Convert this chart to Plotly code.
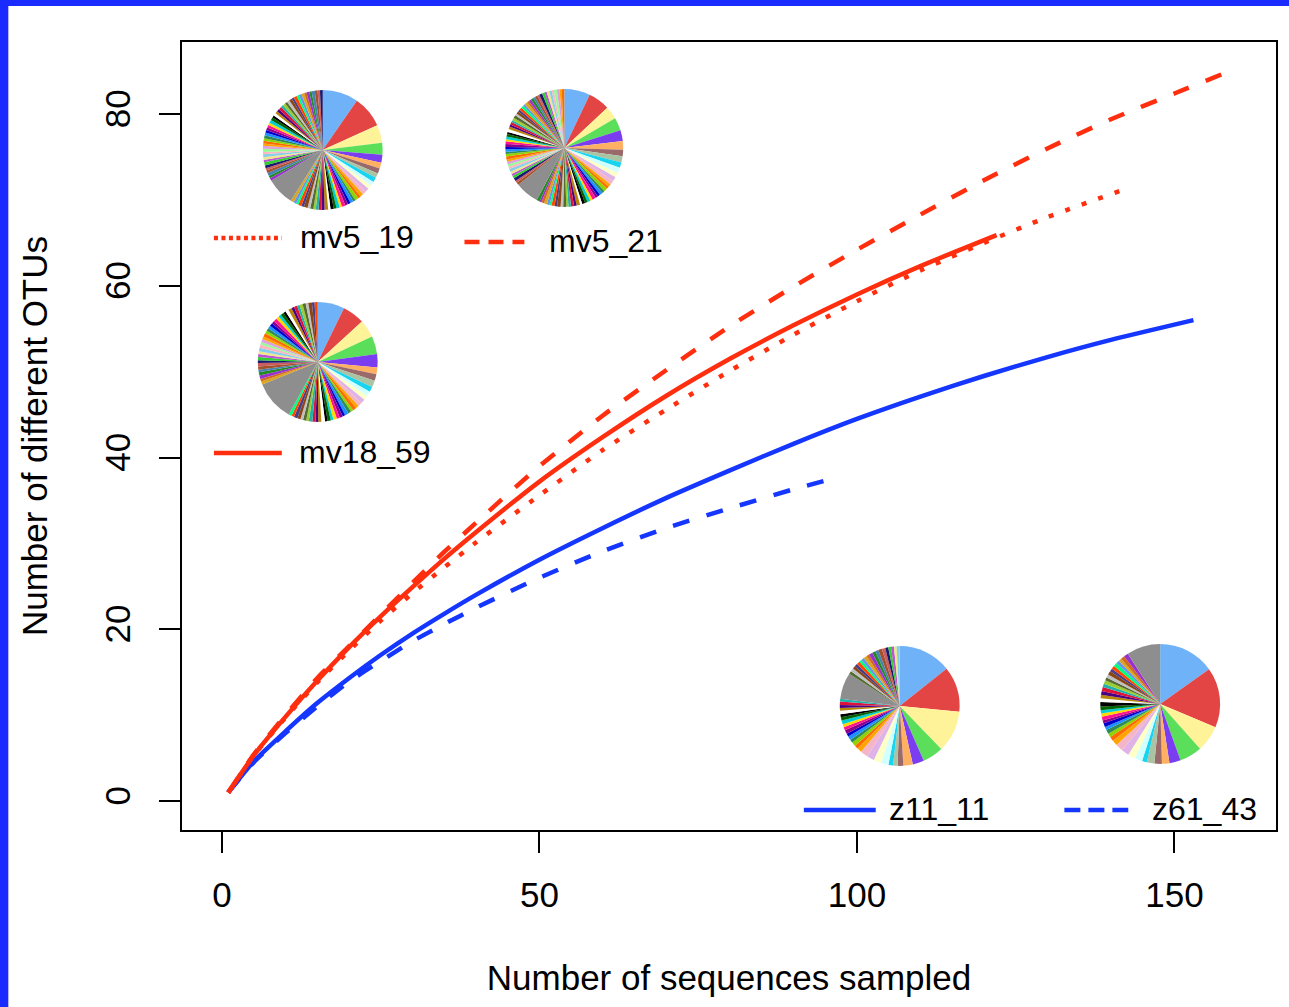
import plotly.graph_objects as go

# ---------------- data ----------------
x_mv18_59 = [1, 5, 10, 15, 20, 25, 30, 35, 40, 50, 60, 70, 80, 90, 100, 110, 122]
y_mv18_59 = [1, 5.3, 9.8, 14.0, 17.9, 21.5, 24.9, 28.2, 31.3, 37.2, 42.4, 47.2, 51.5, 55.4, 59.0, 62.3, 65.9]

x_mv5_19 = [1, 5, 10, 15, 20, 25, 30, 35, 40, 50, 60, 70, 80, 90, 100, 110, 120, 130, 142]
y_mv5_19 = [1, 5.3, 9.7, 13.8, 17.5, 21.0, 24.2, 27.2, 30.1, 35.6, 40.9, 45.6, 50.1, 54.3, 58.2, 61.8, 65.0, 68.0, 71.2]

x_mv5_21 = [1, 5, 10, 15, 20, 25, 30, 35, 40, 50, 60, 70, 80, 90, 100, 110, 120, 130, 140, 150, 158]
y_mv5_21 = [1, 5.4, 10.0, 14.3, 18.0, 21.7, 25.4, 29.0, 32.4, 39.0, 44.9, 50.2, 55.3, 59.9, 64.2, 68.3, 72.3, 76.0, 79.4, 82.4, 84.8]

x_z11_11 = [1, 5, 10, 15, 20, 25, 30, 35, 40, 50, 60, 70, 80, 90, 100, 110, 120, 130, 140, 153]
y_z11_11 = [1, 4.6, 8.1, 11.4, 14.3, 17.0, 19.5, 21.8, 24.0, 28.1, 31.8, 35.3, 38.5, 41.6, 44.5, 47.1, 49.5, 51.7, 53.7, 56.0]

x_z61_43 = [1, 5, 10, 15, 20, 25, 30, 35, 40, 50, 60, 70, 80, 90, 95]
y_z61_43 = [1, 4.5, 7.9, 11.0, 13.9, 16.3, 18.6, 20.6, 22.5, 26.0, 29.1, 31.8, 34.1, 36.3, 37.3]

x_ticks = [0, 50, 100, 150]
y_ticks = [0, 20, 40, 60, 80]

# OTU relative abundances shown in the pies (clockwise from 12 o'clock)
pie_mv5_19 = [9.0, 8.0, 4.5, 3.0, 2.0, 1.5, 1.3, 1.2, 1.2, 1.1, 1.0, 1.0, 0.9,
              0.8, 0.7, 0.9, 0.6, 0.8, 0.7, 0.7, 0.9, 0.6, 0.8, 0.7, 0.8, 0.6, 0.9, 0.7, 0.8,
              0.7, 0.6, 0.8, 0.7, 0.9, 0.7, 0.8, 0.6, 0.7, 0.8,
              7.0,
              0.7, 0.6, 0.8, 0.7, 0.6, 0.7, 0.8, 0.6, 0.7, 0.7, 0.6, 0.8, 0.7, 0.6, 0.7, 0.6,
              0.8, 0.7, 0.6, 0.7, 0.7, 0.6, 0.8, 0.7, 0.6, 0.7, 0.6, 0.7, 0.8, 0.6, 0.7, 0.6,
              0.7, 0.7, 0.6, 0.8, 0.6, 0.7, 0.7, 0.6, 0.7, 0.6, 0.8, 0.7, 0.6, 0.7]
pie_mv5_21 = [6.0, 5.0, 3.0, 3.0, 2.5, 2.0, 1.5, 1.5, 1.2, 1.3, 1.1, 1.0, 1.0,
              0.7, 0.6, 0.8, 0.6, 0.7, 0.6, 0.6, 0.8, 0.6, 0.7, 0.6, 0.7, 0.5, 0.8, 0.6, 0.7,
              0.6, 0.5, 0.7, 0.6, 0.8, 0.6, 0.7, 0.5, 0.6, 0.7, 0.6, 0.5, 0.7,
              5.5,
              0.6, 0.5, 0.7, 0.6, 0.5, 0.6, 0.7, 0.5, 0.6, 0.6, 0.5, 0.7, 0.6, 0.5, 0.6, 0.5,
              0.7, 0.6, 0.5, 0.6, 0.6, 0.5, 0.7, 0.6, 0.5, 0.6, 0.5, 0.6, 0.7, 0.5, 0.6, 0.5,
              0.6, 0.6, 0.5, 0.7, 0.5, 0.6, 0.6, 0.5, 0.6, 0.5, 0.7, 0.6, 0.5, 0.6, 0.6, 0.5,
              0.7, 0.6, 0.5, 0.6]
pie_mv18_59 = [6.0, 5.0, 4.0, 4.0, 3.0, 1.5, 1.5, 1.5, 1.2, 1.1, 1.0, 1.0, 0.9,
               0.7, 0.8, 0.6, 0.7, 0.8, 0.6, 0.7, 0.7, 0.8, 0.6, 0.7, 0.6, 0.8, 0.7, 0.6,
               0.7, 0.8, 0.6, 0.7, 0.6, 0.7, 0.8, 0.6, 0.7,
               9.0,
               0.7, 0.6, 0.8, 0.7, 0.6, 0.7, 0.8, 0.6, 0.7, 0.7, 0.6, 0.8, 0.7, 0.6, 0.7, 0.6,
               0.8, 0.7, 0.6, 0.7, 0.7, 0.6, 0.8, 0.7, 0.6, 0.7, 0.6, 0.7, 0.8, 0.6, 0.7, 0.6,
               0.7, 0.7, 0.6, 0.8, 0.6, 0.7]
pie_z11_11 = [14.0, 12.0, 11.0, 5.5, 3.0, 2.5, 1.5, 1.2, 1.2, 2.0, 2.0, 2.0, 2.0,
              1.2, 1.0, 1.1, 0.9, 1.0, 0.8, 1.0, 0.9, 0.8, 1.0, 0.9, 0.8, 0.9, 0.7, 0.8,
              0.9, 0.7,
              7.0,
              0.8, 0.9, 0.7, 0.8, 0.9, 0.7, 0.8, 0.9, 0.7, 1.0, 0.9, 0.8, 1.0, 0.9, 0.8,
              0.7, 0.8, 0.7, 0.8]
pie_z61_43 = [15.0, 16.0, 7.0, 6.0, 3.0, 2.0, 2.0, 2.0, 1.3, 2.0, 2.0, 2.0, 2.0,
              1.5, 1.2, 1.0, 1.1, 0.9, 1.0, 0.8, 1.0, 0.9, 0.8, 1.0, 1.2, 1.0, 0.9, 1.0,
              1.1, 0.9, 1.0, 0.8, 0.9, 1.0, 0.8, 0.9, 1.0, 0.9, 0.8, 1.0, 1.2,
              9.0]

# ---------------- style ----------------
RED = "#FF2E0E"
BLUE = "#1436FF"
FRAME_BLUE = "#1A2BFF"
FONT = "Liberation Sans, Arial, sans-serif"

W, H = 1289, 1007
PL, PR, PT, PB = 182, 1278, 42, 830   # plot box in pixels
PW, PH = PR - PL, PB - PT


def px(xp):
    return (xp - PL) / PW


def py(yp):
    return (PB - yp) / PH


HEAD = ["#70B2F7", "#E34444", "#FFF39A", "#5BDF5B", "#7A3DF0", "#FFB062", "#9A6A6A",
        "#A9C3A3", "#17D4F0", "#D2FFFF", "#FFFFC8", "#E0B3E8", "#F5B5C8"]
TAIL = ["#FFA500", "#FF6A00", "#8FD400", "#2E8B57", "#1E90FF", "#0000CD", "#8B008B",
        "#FF1493", "#FFD700", "#00CED1", "#006400", "#000000", "#FFFFFF", "#B8860B",
        "#4B0082", "#DC143C", "#20B2AA", "#9ACD32", "#556B2F", "#C0C0C0", "#8B4513",
        "#483D8B", "#FF4500", "#00FF7F", "#6495ED", "#DAA520", "#D2691E", "#9932CC",
        "#228B22", "#4682B4", "#A0522D", "#CD5C5C", "#191970", "#32CD32", "#BA55D3",
        "#F0E68C", "#87CEEB", "#FFB6C1", "#98FB98", "#DDA0DD"]
GRAY = "#8E8E8E"


def pie_colors(values):
    big = max(range(13, len(values)), key=lambda i: values[i])
    cols = []
    for i in range(len(values)):
        if i < len(HEAD):
            cols.append(HEAD[i])
        elif i == big:
            cols.append(GRAY)
        else:
            cols.append(TAIL[(i - len(HEAD)) % len(TAIL)])
    return cols


fig = go.Figure()

curves = [
    (x_z11_11, y_z11_11, BLUE, "solid", "z11_11"),
    (x_z61_43, y_z61_43, BLUE, "17px,18px", "z61_43"),
    (x_mv5_19, y_mv5_19, RED, "5px,12.5px", "mv5_19"),
    (x_mv5_21, y_mv5_21, RED, "17px,18px", "mv5_21"),
    (x_mv18_59, y_mv18_59, RED, "solid", "mv18_59"),
]
for xs, ys, col, dash, name in curves:
    fig.add_trace(go.Scatter(x=xs, y=ys, mode="lines", name=name,
                             line=dict(color=col, width=4.5, dash=dash, shape="spline", smoothing=0.6),
                             showlegend=False, hoverinfo="skip"))

# pies: (values, center px x, center px y, radius px)
pies = [
    (pie_mv5_19, 323, 150, 60),
    (pie_mv5_21, 565, 148, 59),
    (pie_mv18_59, 318, 362, 60),
    (pie_z11_11, 901, 706, 60),
    (pie_z61_43, 1162, 704, 60),
]
for vals, cx, cy, r in pies:
    fig.add_trace(go.Pie(values=vals, sort=False, direction="clockwise", rotation=0,
                         marker=dict(colors=pie_colors(vals), line=dict(width=0)),
                         textinfo="none", hoverinfo="skip", showlegend=False,
                         domain=dict(x=[px(cx - r), px(cx + r)], y=[py(cy + r), py(cy - r)])))

# legend keys (line samples + labels)
legend_items = [
    ("mv5_19", RED, "4px,3.5px", 214, 282, 238, 300),
    ("mv5_21", RED, "15px,9px", 465, 525, 242, 550),
    ("mv18_59", RED, "solid", 214, 282, 453, 299),
    ("z11_11", BLUE, "solid", 805, 877, 810, 890),
    ("z61_43", BLUE, "16px,8px", 1066, 1130, 810, 1154),
]
shapes = []
annotations = []
for label, col, dash, x0, x1, yl, xt in legend_items:
    shapes.append(dict(type="line", xref="paper", yref="paper", x0=px(x0), x1=px(x1),
                       y0=py(yl), y1=py(yl), line=dict(color=col, width=4.5, dash=dash)))
    annotations.append(dict(text=label, xref="paper", yref="paper", x=px(xt - 2), y=py(yl - 1),
                            xanchor="left", yanchor="middle", showarrow=False,
                            font=dict(family=FONT, size=32, color="black")))

# blue frame strips on the top and left edge of the image
shapes.append(dict(type="rect", xref="paper", yref="paper", x0=px(-5), x1=px(8),
                   y0=py(W + 10), y1=py(-5), fillcolor=FRAME_BLUE, line=dict(width=0), layer="above"))
shapes.append(dict(type="rect", xref="paper", yref="paper", x0=px(-5), x1=px(W + 10),
                   y0=py(6), y1=py(-5), fillcolor=FRAME_BLUE, line=dict(width=0), layer="above"))

fig.update_layout(
    width=W, height=H,
    margin=dict(l=PL, r=W - PR, t=PT, b=H - PB, pad=0),
    paper_bgcolor="white", plot_bgcolor="white",
    font=dict(family=FONT, size=35, color="black"),
    shapes=shapes, annotations=annotations,
    showlegend=False,
)
fig.update_xaxes(range=[-6.29, 166.0], tickvals=x_ticks, ticks="outside", ticklen=21, tickwidth=2,
                 tickcolor="black", showline=True, mirror=True, linecolor="black", linewidth=2,
                 showgrid=False, zeroline=False, ticklabelstandoff=12,
                 tickfont=dict(size=35),
                 title=dict(text="Number of sequences sampled", font=dict(size=35), standoff=52))
fig.update_yaxes(range=[-3.38, 88.4], tickvals=y_ticks, ticks="outside", ticklen=21, tickwidth=2,
                 tickcolor="black", showline=True, mirror=True, linecolor="black", linewidth=2,
                 showgrid=False, zeroline=False, tickangle=-90, ticklabelstandoff=15,
                 tickfont=dict(size=35),
                 title=dict(text="Number of different OTUs", font=dict(size=35), standoff=40))

fig.write_html("out.html", post_script="document.body.style.margin='0';",
               config={"displayModeBar": False})
